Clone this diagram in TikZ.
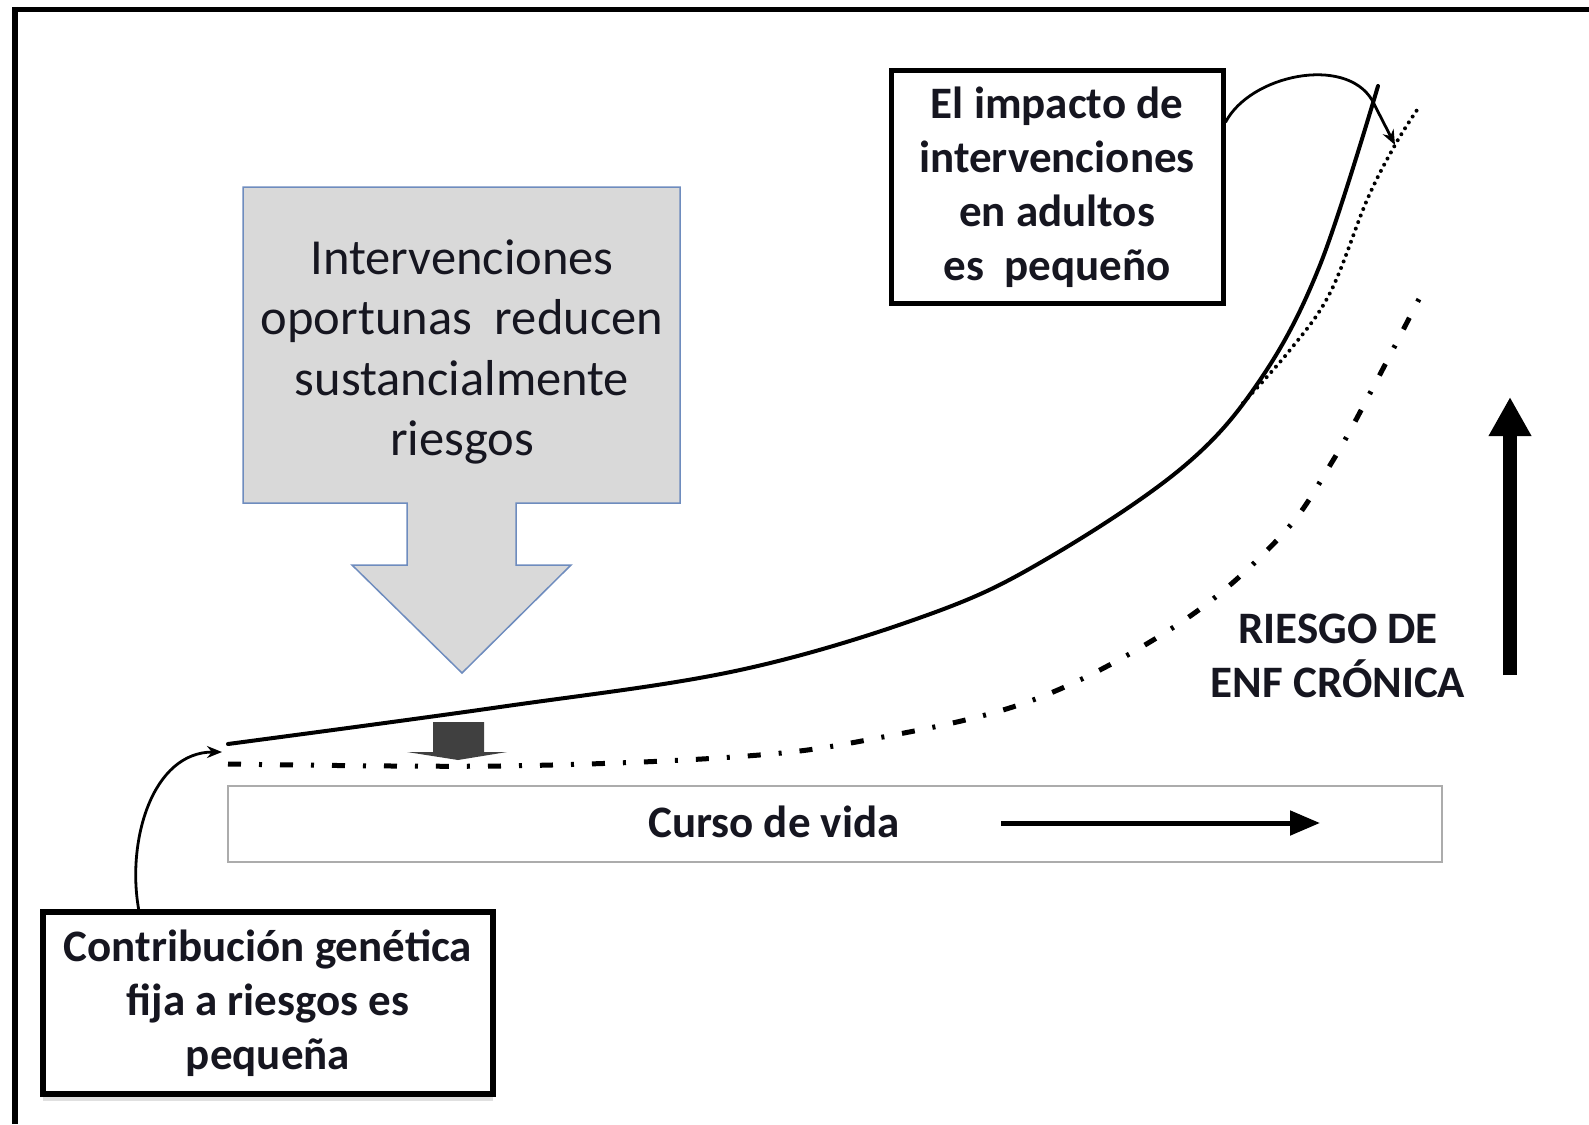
\documentclass[tikz,border=0pt]{standalone}
\usepackage{fontspec}
\setmainfont{Carlito}
\usepackage{tikz}
\usetikzlibrary{arrows.meta, shadows}

\begin{document}
\begin{tikzpicture}[x=1pt, y=-1pt,
    % cajas de texto con borde negro grueso
    box/.style={draw, line width=5pt, fill=white, align=center,
                font=\bfseries\fontsize{45}{54}\selectfont, text=txtC, inner sep=0pt},
    lbl/.style={align=center, font=\bfseries\fontsize{45}{54}\selectfont, text=txtC},
    curve/.style={line width=4pt, line cap=round},
    link/.style={line width=2.8pt, -{Stealth[length=15pt, width=12pt]}},
    bigarrow/.style={line width=5pt, -{Triangle[length=30pt, width=24pt]}}
]

\definecolor{txtC}{RGB}{22,22,32}
\definecolor{calloutC}{RGB}{217,217,217}
\definecolor{calloutB}{RGB}{110,140,190}
\definecolor{darkC}{RGB}{64,64,64}

\useasboundingbox (0,0) rectangle (1589,1124);

% marco exterior (solo arriba e izquierda)
\draw[line width=5pt] (13,9.5) -- (1589,9.5);
\draw[line width=6pt] (15,7) -- (15,1124);

% llamada gris con flecha hacia abajo
\draw[calloutB, fill=calloutC, line width=1.5pt]
  (243,187) -- (680,187) -- (680,503) -- (516,503) -- (516,565) -- (571,565)
  -- (462,673) -- (352,565) -- (407,565) -- (407,503) -- (243,503) -- cycle;
\node[lbl, font=\fontsize{50.5}{60.5}\selectfont] (interv) at (462,352)
  {Intervenciones\\oportunas\ \ reducen\\sustancialmente\\riesgos};

% flecha pequena oscura
\fill[darkC] (433,722) -- (484,722) -- (484,752) -- (507,752) -- (458,760)
  -- (407,752) -- (433,752) -- cycle;

% curso de vida
\node[draw=gray!65, line width=2.5pt, minimum width=1214pt, minimum height=76pt] (vida) at (835,824) {};
\node[lbl, anchor=base] (curso) at (774,837) {Curso de vida};
\coordinate (v0) at (1001,823);
\coordinate (v1) at (1320,823);
\draw[bigarrow] (v0) -- (v1);

% curvas de riesgo
\draw[curve] plot[smooth, tension=0.6] coordinates {
  (228,744) (500,707) (740,670) (933,613) (1050,557) (1183,467)
  (1260,380) (1320,265) (1378,86)};
\draw[line width=5pt, dash pattern=on 13pt off 18pt on 3pt off 18pt]
  plot[smooth, tension=0.6] coordinates {
  (228,764) (500,766) (733,757) (867,740) (1033,700)
  (1180,623) (1280,537) (1332,462) (1377,380) (1420,297)};
\draw[line width=4pt, line cap=round, dash pattern=on 0pt off 7pt]
  plot[smooth, tension=0.6] coordinates {
  (1243,403) (1290,350) (1330,293) (1367,200) (1395,145) (1417,110)};

% riesgo de enfermedad cronica
\node[lbl] (riesgo) at (1338,656) {RIESGO DE\\ENF CRÓNICA};
\coordinate (r0) at (1510,675);
\coordinate (r1) at (1510,397);
\draw[line width=14pt, -{Triangle[length=39pt, width=40pt]}] (r0) -- (r1);

% caja de adultos
\node[box, minimum width=332pt, minimum height=233pt] (impact) at (1057,187)
  {El impacto de\\intervenciones\\en adultos\\es\ \ pequeño};
\coordinate (dot) at (1395,145);
\draw[link] (impact.21) .. controls (1250,75) and (1345,55) .. (1372,100) -- (dot);

% caja genetica
\node[box, line width=6pt, minimum width=450pt, minimum height=182pt,
      drop shadow={shadow xshift=0pt, shadow yshift=-7pt, fill=black!30, opacity=.4}]
  (gen) at (268,1003)
  {Contribución genética\\fija a riesgos es\\pequeña};
\coordinate (gstart) at (222,752);
\draw[link] (gen.144) to[out=100, in=180] (gstart);

\end{tikzpicture}
\end{document}
